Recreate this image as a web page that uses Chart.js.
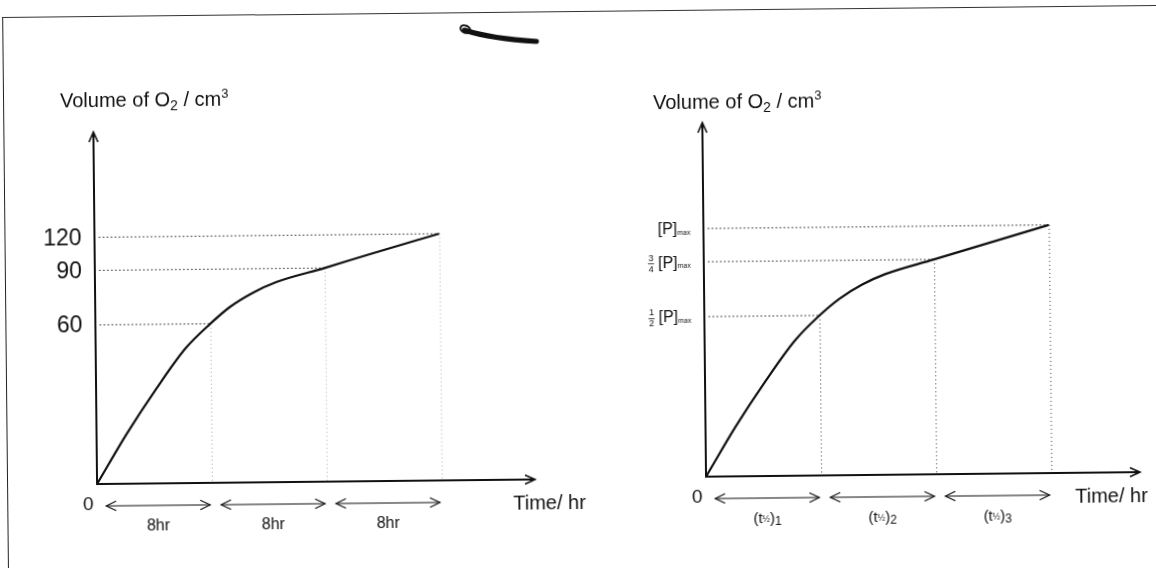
<!DOCTYPE html>
<html>
<head>
<meta charset="utf-8">
<title>Volume of O2 against time</title>
<script src="https://cdn.jsdelivr.net/npm/chart.js@4.4.1/dist/chart.umd.min.js"></script>
<style>
  html, body { margin: 0; padding: 0; background: #fff; overflow: hidden; }
  #sheet { position: relative; width: 1156px; height: 568px; transform: rotate(-0.6deg); transform-origin: 578px 284px; }
  #frame { position: absolute; left: 5px; top: 11px; right: -30px; bottom: -30px; border-left: 1.5px solid #222; border-top: 1.5px solid #333; }
  #leftChart { position: absolute; left: 0; top: 0; }
  #rightChart { position: absolute; left: 609px; top: 0; }
</style>
</head>
<body>
<div id="sheet">
  <div id="frame"></div>
  <canvas id="leftChart" width="609" height="568"></canvas>
  <canvas id="rightChart" width="547" height="568"></canvas>
</div>
<script>
'use strict'

// left graph: oxygen collected, half-life of 8 hours
const hours = [0, 2.09, 4.18, 6.27, 8, 9.41, 11.01, 12.61, 16, 19.16, 24];
const volume = [0, 18.7, 35.6, 50.9, 60, 69.3, 76.9, 82.5, 90, 102.1, 120];
const volumeTicks = [60, 90, 120];
const hourMarks = [8, 16, 24];
const hourSpanLabels = ['8hr', '8hr', '8hr'];

// right graph: same curve in terms of [P]max and successive half-lives
const halfLives = [0, 0.261, 0.522, 0.783, 1, 1.174, 1.374, 1.574, 2, 2.391, 3];
const product = [0, 0.155, 0.295, 0.422, 0.5, 0.575, 0.639, 0.685, 0.75, 0.848, 1];
const levelTicks = [0.5, 0.75, 1];
const levelFractions = [['1', '2'], ['3', '4'], null];
const halfLifeMarks = [1, 2, 3];
const halfLifeIndex = ['1', '2', '3'];

const FONT = '"Liberation Sans", Arial, sans-serif';
const INK = '#111';

function font(size) {
  return size + 'px ' + FONT;
}

// text made of pieces of different sizes (subscripts, superscripts)
function runsWidth(ctx, runs) {
  let w = 0;
  runs.forEach(r => { ctx.font = font(r.size); w += ctx.measureText(r.text).width; });
  return w;
}

function drawRuns(ctx, x, y, runs) {
  runs.forEach(r => {
    ctx.font = font(r.size);
    ctx.fillText(r.text, x, y + (r.dy || 0));
    x += ctx.measureText(r.text).width;
  });
  return x;
}

function arrowHead(ctx, x, y, dir, len, spread) {
  ctx.beginPath();
  ctx.moveTo(x - len * Math.cos(dir - spread), y - len * Math.sin(dir - spread));
  ctx.lineTo(x, y);
  ctx.lineTo(x - len * Math.cos(dir + spread), y - len * Math.sin(dir + spread));
  ctx.stroke();
}

// linear scale whose ticks are spaced unevenly along the axis
class StretchScale extends Chart.LinearScale {
  static id = 'stretch';
  static defaults = {};

  getPixelForValue(value) {
    const vals = this.options.stopValues;
    const fr = this.options.stopFractions;
    let i = 1;
    while (i < vals.length - 1 && value > vals[i]) i++;
    const t = (value - vals[i - 1]) / (vals[i] - vals[i - 1]);
    return this.getPixelForDecimal(fr[i - 1] + t * (fr[i] - fr[i - 1]));
  }

  getValueForPixel(pixel) {
    const vals = this.options.stopValues;
    const fr = this.options.stopFractions;
    const d = this.getDecimalForPixel(pixel);
    let i = 1;
    while (i < fr.length - 1 && d > fr[i]) i++;
    const t = (d - fr[i - 1]) / (fr[i] - fr[i - 1]);
    return vals[i - 1] + t * (vals[i] - vals[i - 1]);
  }
}
Chart.register(StretchScale);

// axes with arrow heads, dotted read-off lines and the labels under the time axis
function makeSketch(cfg) {
  return {
    id: 'sketch',
    beforeDatasetsDraw(chart) {
      const {ctx, chartArea: a, scales: {x, y}} = chart;
      ctx.save();
      ctx.lineWidth = 1;
      cfg.levels.forEach((v, i) => {
        const px = x.getPixelForValue(cfg.marks[i]);
        const py = y.getPixelForValue(v);
        ctx.strokeStyle = '#555';
        ctx.setLineDash([2, 2]);
        ctx.beginPath();
        ctx.moveTo(a.left + 4, py);
        ctx.lineTo(px, py);
        ctx.stroke();
        ctx.strokeStyle = cfg.dropColor;
        ctx.setLineDash([1, 3]);
        ctx.beginPath();
        ctx.moveTo(px + 0.5, py);
        ctx.lineTo(px + 0.5, a.bottom);
        ctx.stroke();
      });
      ctx.restore();
    },
    afterDatasetsDraw(chart) {
      const {ctx, chartArea: a, scales: {x, y}} = chart;
      ctx.save();
      ctx.strokeStyle = INK;
      ctx.fillStyle = INK;

      // axes
      ctx.lineWidth = 2;
      ctx.beginPath();
      ctx.moveTo(a.left, a.top);
      ctx.lineTo(a.left, a.bottom);
      ctx.lineTo(a.right, a.bottom);
      ctx.stroke();
      ctx.lineWidth = 1.6;
      arrowHead(ctx, a.left, a.top, -Math.PI / 2, 11, 0.42);
      arrowHead(ctx, a.right, a.bottom, 0, 11, 0.42);

      // axis title
      ctx.textAlign = 'left';
      ctx.textBaseline = 'alphabetic';
      drawRuns(ctx, cfg.titleX, cfg.titleY, [
        {text: 'Volume of O', size: 20},
        {text: '2', size: 14, dy: 4},
        {text: ' / cm', size: 20},
        {text: '3', size: 13, dy: -8}
      ]);

      // value labels on the vertical axis
      ctx.textBaseline = 'middle';
      cfg.levels.forEach((v, i) => cfg.levelLabel(ctx, i, a.left - 13, y.getPixelForValue(v)));

      // origin
      ctx.textAlign = 'center';
      ctx.font = font(19);
      ctx.fillText('0', a.left - 9, a.bottom + 21);

      // double arrows over each interval
      const ay = a.bottom + 22;
      ctx.lineWidth = 1.2;
      cfg.marks.forEach((m, i) => {
        const x1 = x.getPixelForValue(i === 0 ? 0 : cfg.marks[i - 1]) + 9;
        const x2 = x.getPixelForValue(m) - 2;
        ctx.beginPath();
        ctx.moveTo(x1, ay);
        ctx.lineTo(x2, ay);
        ctx.stroke();
        arrowHead(ctx, x1, ay, Math.PI, 11, 0.45);
        arrowHead(ctx, x2, ay, 0, 11, 0.45);
        cfg.spanLabel(ctx, i, (x1 + x2) / 2, a.bottom + 43);
      });

      // time axis title
      ctx.textAlign = 'left';
      ctx.textBaseline = 'middle';
      ctx.font = font(20);
      ctx.fillText('Time/ hr', a.right + cfg.timeOffset, a.bottom + 24);

      if (cfg.extra) cfg.extra(ctx);
      ctx.restore();
    }
  };
}

function curveDataset(xs, ys) {
  return {
    data: xs.map((t, i) => ({x: t, y: ys[i]})),
    borderColor: INK,
    borderWidth: 2.2,
    pointRadius: 0,
    fill: false,
    clip: false,
    cubicInterpolationMode: 'monotone'
  };
}

function baseOptions(padding, xMax, stopValues, stopFractions) {
  return {
    responsive: false,
    animation: false,
    events: [],
    layout: {padding: padding},
    plugins: {legend: {display: false}, tooltip: {enabled: false}},
    scales: {
      x: {type: 'linear', min: 0, max: xMax, display: false},
      y: {type: 'stretch', min: 0, max: stopValues[stopValues.length - 1],
          stopValues: stopValues, stopFractions: stopFractions, display: false}
    }
  };
}

const tickSpacing = [0, 0.452, 0.607, 0.701, 1];

new Chart(document.getElementById('leftChart'), {
  type: 'line',
  data: {datasets: [curveDataset(hours, volume)]},
  options: baseOptions({left: 95, top: 127, right: 76, bottom: 89}, 30.5,
    [0, 60, 90, 120, 180], tickSpacing),
  plugins: [makeSketch({
    levels: volumeTicks,
    marks: hourMarks,
    dropColor: '#aaa',
    titleX: 62,
    titleY: 102,
    timeOffset: -22,
    levelLabel(ctx, i, xr, yc) {
      ctx.textAlign = 'right';
      ctx.font = font(23);
      ctx.fillText(String(volumeTicks[i]), xr, yc + 1);
    },
    spanLabel(ctx, i, xc, yc) {
      ctx.textAlign = 'center';
      ctx.font = font(16);
      ctx.fillText(hourSpanLabels[i], xc, yc);
    },
    extra(ctx) {
      // ink mark above the graph
      ctx.lineCap = 'round';
      ctx.lineWidth = 5;
      ctx.beginPath();
      ctx.moveTo(467, 29);
      ctx.quadraticCurveTo(495, 38, 539, 41);
      ctx.stroke();
      ctx.lineWidth = 2;
      ctx.beginPath();
      ctx.ellipse(468, 28, 5, 3.5, 0.4, 0, Math.PI * 2);
      ctx.stroke();
    }
  })]
});

new Chart(document.getElementById('rightChart'), {
  type: 'line',
  data: {datasets: [curveDataset(halfLives, product)]},
  options: baseOptions({left: 95, top: 124, right: 18, bottom: 90}, 3.77,
    [0, 0.5, 0.75, 1, 1.5], tickSpacing),
  plugins: [makeSketch({
    levels: levelTicks,
    marks: halfLifeMarks,
    dropColor: '#333',
    titleX: 46,
    titleY: 110,
    timeOffset: -65,
    levelLabel(ctx, i, xr, yc) {
      const runs = [{text: '[P]', size: 16}, {text: 'max', size: 7, dy: 3}];
      const x0 = xr - runsWidth(ctx, runs);
      ctx.textAlign = 'left';
      drawRuns(ctx, x0, yc + 1, runs);
      const f = levelFractions[i];
      if (f) {
        const fx = x0 - 7;
        ctx.textAlign = 'center';
        ctx.font = font(9);
        ctx.fillText(f[0], fx, yc - 4);
        ctx.fillText(f[1], fx, yc + 7);
        ctx.lineWidth = 0.8;
        ctx.beginPath();
        ctx.moveTo(fx - 3, yc + 1.5);
        ctx.lineTo(fx + 3, yc + 1.5);
        ctx.stroke();
      }
    },
    spanLabel(ctx, i, xc, yc) {
      const runs = [
        {text: '(t', size: 15},
        {text: '½', size: 9, dy: 1},
        {text: ')', size: 15},
        {text: halfLifeIndex[i], size: 12, dy: 3}
      ];
      ctx.textAlign = 'left';
      drawRuns(ctx, xc - runsWidth(ctx, runs) / 2, yc, runs);
    }
  })]
});
</script>
</body>
</html>
